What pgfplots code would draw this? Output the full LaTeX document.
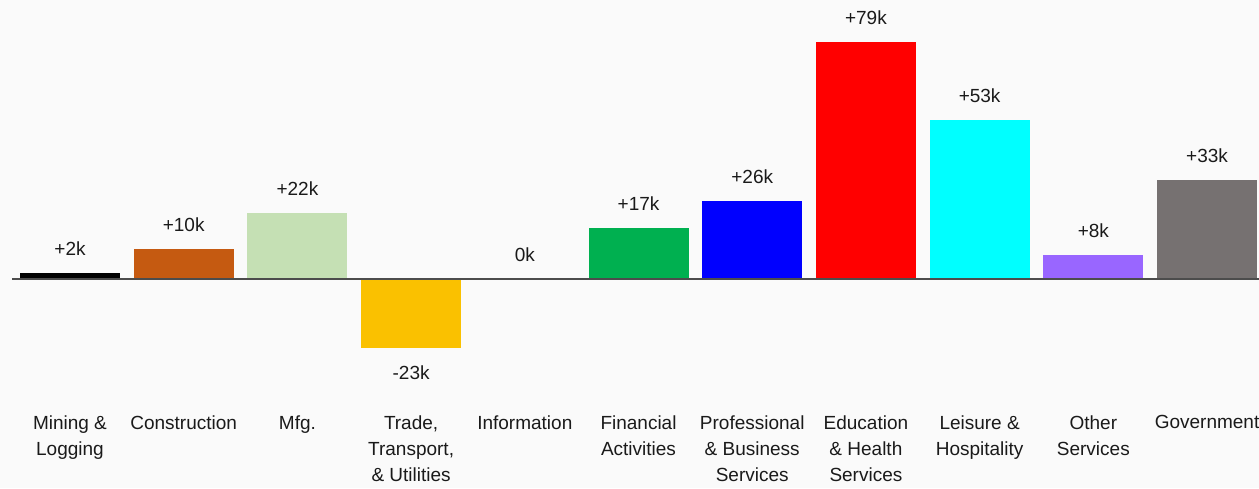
\documentclass[border=0pt]{standalone}
\usepackage{fontspec}
\setmainfont{Liberation Sans}
\usepackage{pgfplots}
\pgfplotsset{compat=1.18}
\usetikzlibrary{backgrounds}

\definecolor{cMining}{HTML}{000000}
\definecolor{cConstr}{HTML}{C55A11}
\definecolor{cMfg}{HTML}{C5E0B4}
\definecolor{cTrade}{HTML}{FAC100}
\definecolor{cFin}{HTML}{00B050}
\definecolor{cProf}{HTML}{0000FF}
\definecolor{cEdu}{HTML}{FF0000}
\definecolor{cLeis}{HTML}{00FFFF}
\definecolor{cOther}{HTML}{9966FF}
\definecolor{cGov}{HTML}{767171}
\definecolor{txt}{HTML}{1A1A1A}

\begin{document}
\begin{tikzpicture}
\begin{axis}[
    ybar,
    width=623.5pt, height=200pt,
    scale only axis,
    xmin=-0.51, xmax=10.457,
    ymin=-40.3, ymax=93,
    axis line style={draw=none},
    ytick=\empty,
    xtick={0,1,2,3,4,5,6,7,8,9,10},
    xticklabels={
      {Mining \&\\Logging}, Construction, Mfg.,
      {Trade,\\Transport,\\\& Utilities}, Information,
      {Financial\\Activities}, {Professional\\\& Business\\Services},
      {Education\\\& Health\\Services}, {Leisure \&\\Hospitality},
      {Other\\Services}, Government},
    major tick length=0pt,
    xticklabel style={align=center, anchor=north, inner sep=0pt,
      font=\fontsize{9.5}{13}\selectfont, text=txt, yshift=-7.5pt},
    bar width=50pt,
    every node near coord/.append style={font=\fontsize{9.5}{13}\selectfont,
      text=txt, inner sep=8.5pt},
    clip=false,
  ]
  \addplot[fill=cMining, draw=none, bar shift=0pt, nodes near coords={+2k}] coordinates {(0,2)};
  \addplot[fill=cConstr, draw=none, bar shift=0pt, nodes near coords={+10k}] coordinates {(1,10)};
  \addplot[fill=cMfg, draw=none, bar shift=0pt, nodes near coords={+22k}] coordinates {(2,22)};
  \addplot[fill=cTrade, draw=none, bar shift=0pt, nodes near coords={-23k}] coordinates {(3,-23)};
  \addplot[fill=none, draw=none, bar shift=0pt, nodes near coords={0k}] coordinates {(4,0)};
  \addplot[fill=cFin, draw=none, bar shift=0pt, nodes near coords={+17k}] coordinates {(5,17)};
  \addplot[fill=cProf, draw=none, bar shift=0pt, nodes near coords={+26k}] coordinates {(6,26)};
  \addplot[fill=cEdu, draw=none, bar shift=0pt, nodes near coords={+79k}] coordinates {(7,79)};
  \addplot[fill=cLeis, draw=none, bar shift=0pt, nodes near coords={+53k}] coordinates {(8,53)};
  \addplot[fill=cOther, draw=none, bar shift=0pt, nodes near coords={+8k}] coordinates {(9,8)};
  \addplot[fill=cGov, draw=none, bar shift=0pt, nodes near coords={+33k}] coordinates {(10,33)};
  \draw[color=black!70, line width=1pt] (axis cs:-0.51,0) -- (axis cs:10.457,0);
  \coordinate (bl) at (rel axis cs:0,0);
  \coordinate (tr) at (rel axis cs:1,1);
\end{axis}
\pgfresetboundingbox
\path[use as bounding box] ([xshift=-6pt,yshift=-44pt]bl) rectangle (tr);
\begin{scope}[on background layer]
  \fill[white!98!black] ([xshift=-6pt,yshift=-44pt]bl) rectangle (tr);
\end{scope}
\end{tikzpicture}
\end{document}
